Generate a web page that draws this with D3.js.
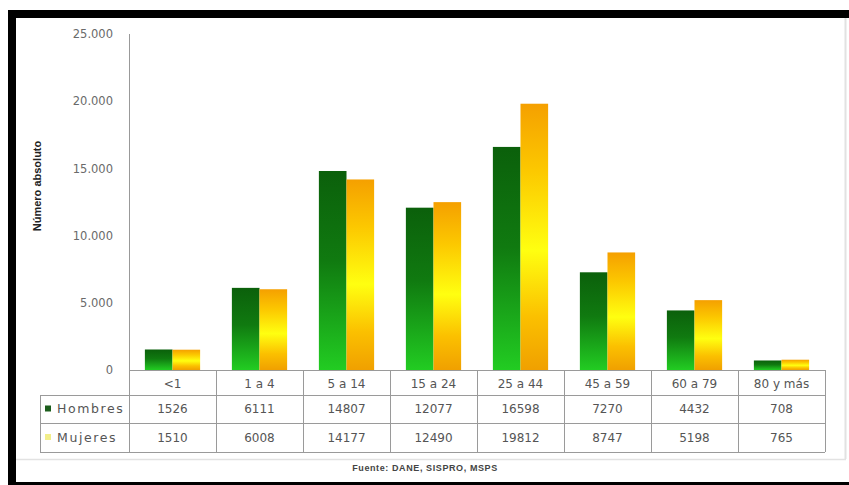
<!DOCTYPE html>
<html>
<head>
<meta charset="utf-8">
<script src="https://cdn.jsdelivr.net/npm/d3@7"></script>
<style>
  html, body { margin: 0; padding: 0; background: #fff; }
  svg { display: block; }
</style>
</head>
<body>
<svg id="chart" width="849" height="485"></svg>
<script>
const categories = ["<1", "1 a 4", "5 a 14", "15 a 24", "25 a 44", "45 a 59", "60 a 79", "80 y más"];
const seriesNames = ["Hombres", "Mujeres"];
const hombres = [1526, 6111, 14807, 12077, 16598, 7270, 4432, 708];
const mujeres = [1510, 6008, 14177, 12490, 19812, 8747, 5198, 765];
const yTicks = [0, 5000, 10000, 15000, 20000, 25000];
const yTitle = "Número absoluto";
const source = "Fuente: DANE, SISPRO, MSPS";

(function () {
const seriesValues = { Hombres: hombres, Mujeres: mujeres };
const svg = d3.select("#chart");

// frame
svg.append("rect").attr("x", 8).attr("y", 10).attr("width", 841).attr("height", 8).attr("fill", "#000");
svg.append("rect").attr("x", 8).attr("y", 10).attr("width", 8).attr("height", 475).attr("fill", "#000");
svg.append("rect").attr("x", 8).attr("y", 482).attr("width", 841).attr("height", 3).attr("fill", "#000");
svg.append("line").attr("x1", 845.5).attr("x2", 845.5).attr("y1", 18).attr("y2", 459)
  .attr("stroke", "#e2e2e2").attr("stroke-width", 2);
svg.append("line").attr("x1", 16).attr("x2", 846).attr("y1", 459.5).attr("y2", 459.5)
  .attr("stroke", "#e2e2e2").attr("stroke-width", 1.5);

// gradients
const defs = svg.append("defs");
const gG = defs.append("linearGradient").attr("id", "gH").attr("x1", 0).attr("x2", 0).attr("y1", 0).attr("y2", 1);
[[0, "#0b600b"], [0.45, "#107a10"], [1, "#22cc22"]].forEach(([o, c]) =>
  gG.append("stop").attr("offset", o).attr("stop-color", c));
const gY = defs.append("linearGradient").attr("id", "gM").attr("x1", 0).attr("x2", 0).attr("y1", 0).attr("y2", 1);
[[0, "#f5a000"], [0.25, "#fcc800"], [0.55, "#ffff10"], [0.8, "#fbc000"], [1, "#f0a000"]].forEach(([o, c]) =>
  gY.append("stop").attr("offset", o).attr("stop-color", c));

const plotL = 129, plotR = 825, plotT = 34, base = 370;

const x = d3.scaleBand().domain(categories).range([plotL, plotR]).padding(0);
const groupW = x.bandwidth() * 0.635;
const x1 = d3.scaleBand().domain(seriesNames).range([0, groupW]).padding(0);
const y = d3.scaleLinear().domain([0, 25000]).range([base, plotT]);

const loc = d3.formatLocale({ decimal: ",", thousands: ".", grouping: [3], currency: ["", ""] });
const fmt = loc.format(",");

// y axis
const yAxis = d3.axisLeft(y).tickValues(yTicks).tickFormat(fmt).tickSize(0).tickPadding(16);
const gy = svg.append("g").attr("transform", `translate(${plotL},0)`).call(yAxis);
gy.select(".domain").remove();
gy.selectAll("text").attr("font-family", "DejaVu Sans").attr("font-size", 11.5).attr("fill", "#6a6a6a");

svg.append("line").attr("x1", plotL + 0.5).attr("x2", plotL + 0.5).attr("y1", plotT).attr("y2", 452)
  .attr("stroke", "#999").attr("stroke-width", 1);

// bars
const groups = svg.append("g").selectAll("g").data(categories).join("g")
  .attr("transform", d => `translate(${x(d) + (x.bandwidth() - groupW) / 2},0)`);
groups.selectAll("rect").data((d, i) => seriesNames.map(s => ({ s, v: seriesValues[s][i] }))).join("rect")
  .attr("x", d => x1(d.s))
  .attr("width", x1.bandwidth())
  .attr("y", d => y(d.v))
  .attr("height", d => base - y(d.v))
  .attr("fill", d => d.s === "Hombres" ? "url(#gH)" : "url(#gM)");

// table grid
const grid = svg.append("g").attr("stroke", "#9a9a9a").attr("stroke-width", 1);
grid.append("line").attr("x1", plotL).attr("x2", plotR).attr("y1", base + 0.5).attr("y2", base + 0.5);
[395, 423, 452].forEach(yy =>
  grid.append("line").attr("x1", 40).attr("x2", plotR).attr("y1", yy + 0.5).attr("y2", yy + 0.5));
grid.append("line").attr("x1", 40.5).attr("x2", 40.5).attr("y1", 395).attr("y2", 452);
categories.forEach(c => {
  const xx = Math.round(x(c) + x.bandwidth()) + 0.5;
  grid.append("line").attr("x1", xx).attr("x2", xx).attr("y1", base).attr("y2", 452);
});

const txt = svg.append("g").attr("font-family", "DejaVu Sans").attr("font-size", 12)
  .attr("fill", "#555").attr("text-anchor", "middle");
categories.forEach((c, i) => {
  const cx = x(c) + x.bandwidth() / 2;
  txt.append("text").attr("x", cx).attr("y", 383.5).attr("dy", "0.35em").text(c);
  txt.append("text").attr("x", cx).attr("y", 409).attr("dy", "0.35em").text(hombres[i]);
  txt.append("text").attr("x", cx).attr("y", 437.5).attr("dy", "0.35em").text(mujeres[i]);
});

// legend in table
const legendColors = { Hombres: "#1c5e1c", Mujeres: "#f2ee8a" };
seriesNames.forEach((s, i) => {
  const cy = [409, 437.5][i];
  svg.append("rect").attr("x", 45).attr("y", cy - 3.5).attr("width", 6).attr("height", 6).attr("fill", legendColors[s]);
  svg.append("text").attr("x", 57).attr("y", cy).attr("dy", "0.35em")
    .attr("font-family", "DejaVu Sans").attr("font-size", 12.5).attr("letter-spacing", 1.6)
    .attr("fill", "#555").text(s);
});

// y title
svg.append("text").attr("transform", "translate(41,186) rotate(-90)")
  .attr("text-anchor", "middle").attr("font-family", "Liberation Sans").attr("font-weight", "bold")
  .attr("font-size", 11).attr("fill", "#222").text(yTitle);

// source
svg.append("text").attr("x", 425).attr("y", 471).attr("text-anchor", "middle")
  .attr("font-family", "Liberation Sans").attr("font-weight", "bold").attr("font-size", 9)
  .attr("letter-spacing", 0.6).attr("fill", "#444").text(source);
})();
</script>
</body>
</html>
